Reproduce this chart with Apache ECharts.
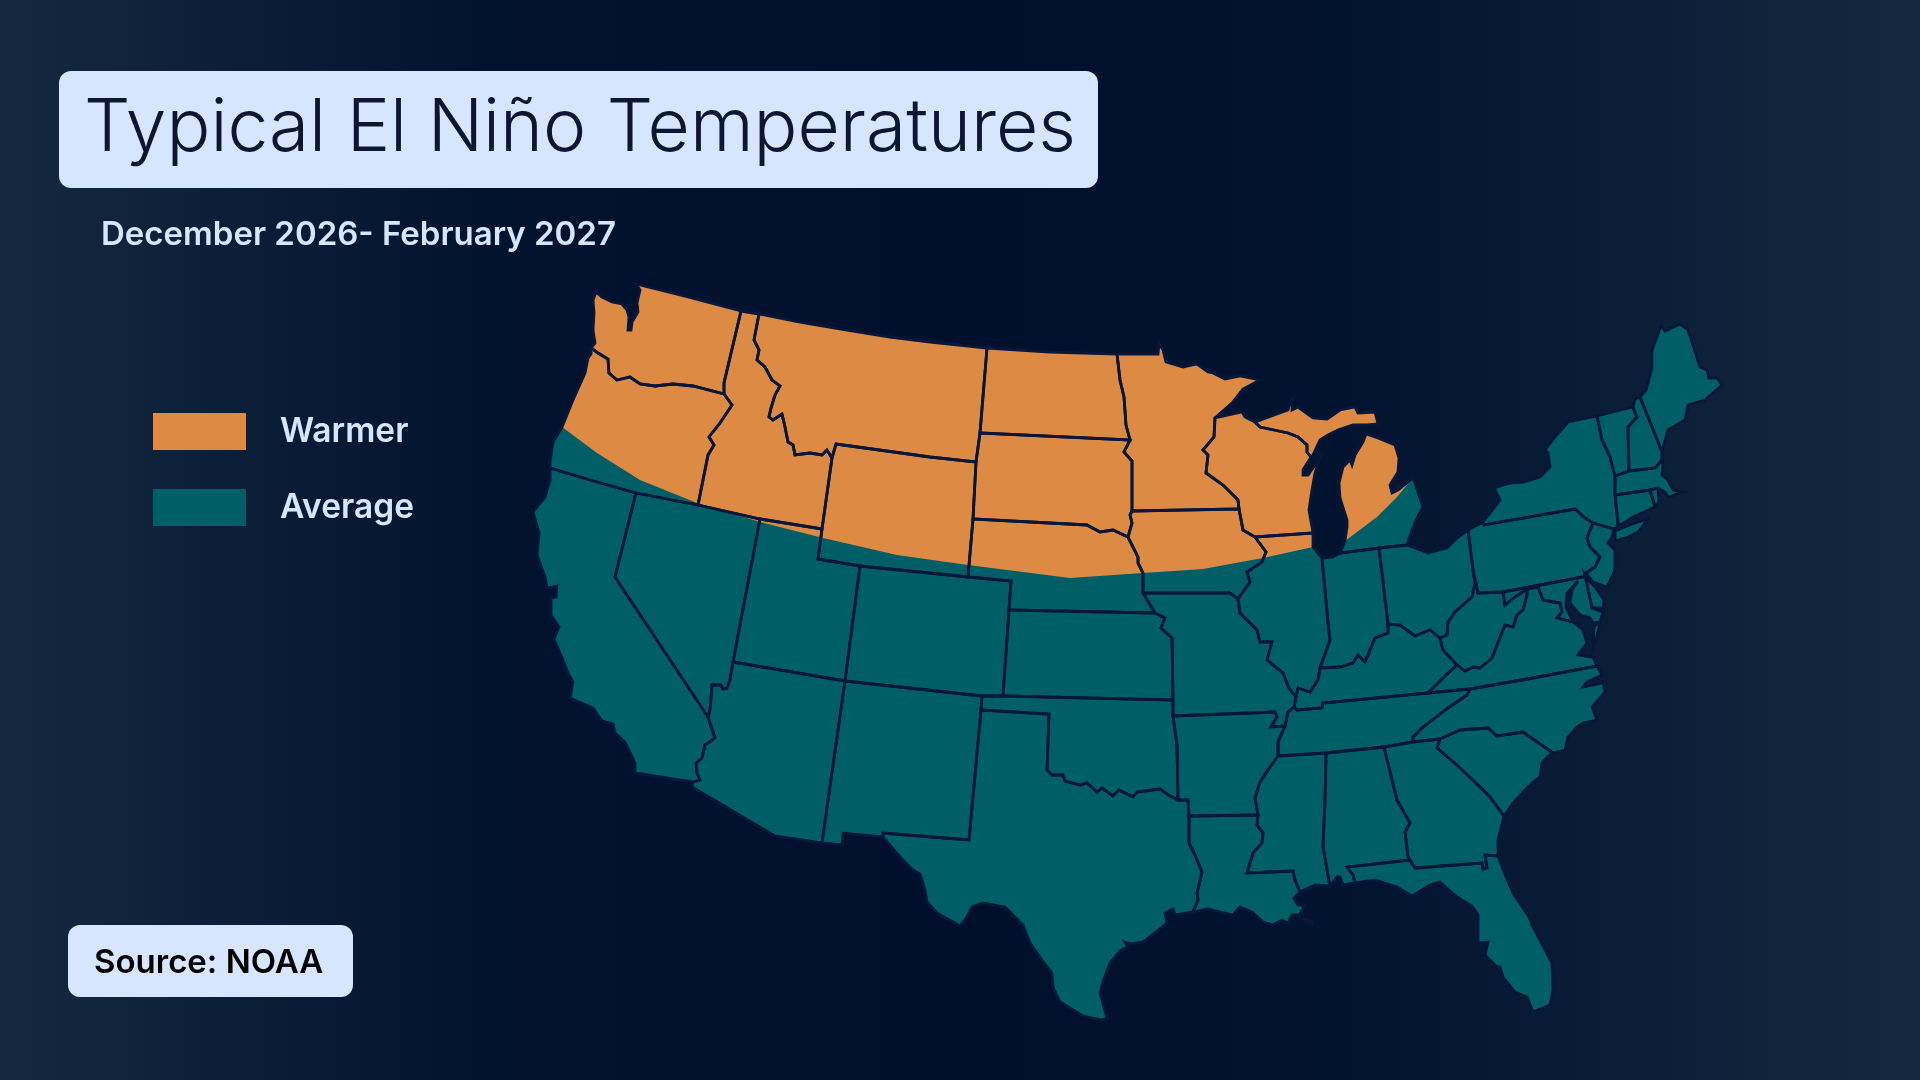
<!DOCTYPE html>
<html><head><meta charset="utf-8">
<style>html,body{margin:0;padding:0;background:#00112c}#c{width:1920px;height:1080px}</style>
<script src="https://cdn.jsdelivr.net/npm/echarts@6/dist/echarts.min.js"></script>
</head><body><div id="c"></div>
<script>
const titleText='Typical El Niño Temperatures';
const subtitleText='December 2026- February 2027';
const sourceText='Source: NOAA';
const legendNames=['Warmer','Average'];
const ORANGE='#DD8A45',TEAL='#005F66',LINE='#07173A',PALE='#D7E6FF';

const WA_COAST=[[591,348],[595,343],[593,330],[594,313],[593,300],[596,292],[602,297],[612,302],[622,304],[627,310],[629,317],[628,330],[631,330],[632,322],[638,312],[637,303],[640,290],[636,284]];
const CAN_WA=[[636,284],[688,297],[741,311]];
const CAN_ID=[[741,311],[759,314]];
const CAN_MT=[[759,314],[800,322],[847,330],[890,337],[930,342],[987,348]];
const CAN_ND=[[987,348],[1050,352],[1117,354]];
const WA_ID=[[741,311],[724,383],[724,394]];
const WA_OR=[[591,348],[598,353],[608,359],[609,373],[617,380],[630,377],[640,384],[655,386],[673,384],[693,386],[724,394]];
const OR_ID=[[724,394],[732,405],[720,423],[709,437],[714,445],[708,455],[698,505]];
const COAST_OR_S=[[550,468],[550,462],[553,442],[562,427]];
const COAST_OR_N=[[562,427],[573,400],[585,373],[588,358],[591,354],[591,348]];
const OR_CA=[[550,468],[590,480],[636,493]];
const OR_NV=[[636,493],[698,505]];
const ID_NV=[[698,505],[760,519]];
const ID_UT=[[760,519],[822,529]];
const CA_NV=[[636,493],[615,577],[708,717]];
const CA_AZ=[[708,717],[715,738],[705,745],[702,758],[696,763],[697,773],[700,780],[693,782]];
const CA_S=[[693,782],[635,773]];
const CA_COAST=[[635,773],[635,763],[625,742],[615,733],[613,724],[602,721],[593,708],[570,698],[573,682],[568,673],[563,660],[554,639],[559,627],[551,615],[551,598],[556,597],[557,586],[547,588],[545,577],[537,555],[539,533],[533,512],[545,497],[550,480],[550,468]];
const NV_UT=[[760,519],[733,662]];
const NV_AZ=[[733,662],[730,680],[727,688],[723,689],[721,685],[712,685],[710,710],[708,717]];
const MT_ID=[[759,314],[754,340],[759,350],[757,360],[765,367],[772,380],[780,386],[775,395],[771,408],[769,417],[773,420],[782,414],[785,427],[788,442],[793,445],[795,455],[810,453],[822,455],[827,450],[832,458]];
const MT_JOG=[[832,458],[836,444]];
const ID_WY=[[832,458],[822,529]];
const MT_WY=[[836,444],[930,457],[976,462]];
const MT_ND=[[987,348],[980,433]];
const MT_SD=[[980,433],[976,462]];
const WY_SD=[[976,462],[973,519]];
const WY_NE=[[973,519],[968,577]];
const WY_CO=[[968,577],[860,566]];
const UT_WY=[[822,529],[818,559],[860,566]];
const UT_CO=[[860,566],[845,681]];
const UT_AZ=[[733,662],[845,681]];
const CO_NE=[[968,577],[1011,581],[1009,610]];
const CO_KS=[[1009,610],[1003,696]];
const CO_OK=[[1003,696],[982,696]];
const CO_NM=[[982,696],[845,681]];
const AZ_NM=[[845,681],[822,843]];
const AZ_S=[[822,843],[775,836],[692,787],[693,782]];
const NM_OK=[[982,696],[981,710]];
const NM_TX=[[981,710],[969,840],[883,833]];
const NM_S=[[883,833],[883,837],[843,833],[842,845],[822,843]];
const TX_P=[[981,710],[1049,714]];
const TX_OK=[[1049,714],[1047,770],[1052,775],[1063,775],[1065,781],[1080,785],[1087,783],[1097,792],[1102,788],[1113,796],[1119,790],[1133,797],[1137,792],[1160,789],[1170,796],[1178,800]];
const TX_AR=[[1178,800],[1188,800],[1189,816]];
const TX_LA=[[1189,816],[1189,843],[1195,855],[1202,872],[1197,893],[1198,900],[1193,912]];
const TX_COAST=[[883,837],[900,857],[913,870],[920,874],[925,890],[927,902],[937,913],[960,926],[967,917],[972,907],[983,903],[1005,907],[1023,925],[1030,943],[1042,960],[1052,973],[1053,987],[1060,1002],[1083,1016],[1102,1020],[1107,1018],[1100,993],[1103,982],[1110,963],[1121,950],[1128,947],[1125,942],[1130,944],[1143,942],[1167,923],[1165,913],[1173,909],[1175,915],[1193,912]];
const ND_MN=[[1117,354],[1120,380],[1124,397],[1126,425],[1130,440]];
const ND_SD=[[980,433],[1130,440]];
const SD_MN=[[1130,440],[1124,452],[1132,461],[1132,511]];
const SD_IA=[[1132,511],[1130,515],[1132,523],[1128,537]];
const SD_NE=[[973,519],[1087,525],[1100,532],[1113,530],[1128,537]];
const NE_IA=[[1128,537],[1138,557],[1138,563],[1143,573],[1143,593]];
const NE_MO=[[1143,593],[1155,613]];
const NE_KS=[[1009,610],[1155,613]];
const KS_MO=[[1155,613],[1165,618],[1161,628],[1172,638],[1173,700]];
const KS_OK=[[1003,696],[1173,700]];
const OK_MO=[[1173,700],[1173,716]];
const OK_AR=[[1173,716],[1177,745],[1178,800]];
const MN_N=[[1117,354],[1158,354],[1159,344],[1163,350],[1166,362],[1183,367],[1197,364],[1208,372],[1213,373],[1225,379],[1240,376],[1260,380]];
const MN_LAKE=[[1260,380],[1243,389],[1232,403],[1215,418]];
const MN_WI=[[1215,418],[1214,437],[1203,450],[1208,455],[1206,473],[1223,485],[1238,500],[1239,509]];
const MN_IA=[[1132,511],[1239,509]];
const WI_IA=[[1239,509],[1243,530],[1255,537]];
const WI_IL=[[1255,537],[1313,533]];
const WI_N=[[1215,418],[1242,412],[1245,417],[1255,422]];
const WI_MI=[[1255,422],[1260,427],[1288,433],[1298,437],[1307,445],[1307,452],[1311,457]];
const WI_SHORE=[[1311,457],[1303,470],[1303,475],[1308,475],[1320,458],[1315,473],[1312,490],[1309,510],[1312,527],[1313,533]];
const UP_N=[[1255,422],[1288,410],[1290,402],[1296,393],[1292,402],[1292,410],[1298,407],[1313,418],[1327,419],[1340,410],[1355,407],[1358,413],[1375,412],[1378,424]];
const UP_S=[[1378,424],[1367,425],[1353,425],[1338,430],[1328,435],[1320,440],[1313,455],[1311,457]];
const MI_LAKE_N=[[1345,541],[1347,527],[1347,520],[1340,498],[1339,483],[1343,467],[1350,460],[1352,465],[1355,455],[1363,442],[1366,434]];
const MI_HURON=[[1366,434],[1378,438],[1395,445],[1399,458],[1398,472],[1390,485],[1392,493],[1398,490],[1413,478]];
const MI_ERIE=[[1413,478],[1415,483],[1423,507],[1417,518],[1412,530],[1407,545]];
const MI_IN=[[1340,553],[1379,548]];
const MI_OH=[[1379,548],[1407,545]];
const IN_LAKE=[[1322,558],[1333,557],[1340,553]];
const IL_LAKE=[[1313,533],[1313,547],[1318,553],[1322,558]];
const IL_IN=[[1322,558],[1328,623],[1330,640],[1320,668]];
const IN_OH=[[1379,548],[1388,624]];
const IN_KY=[[1388,624],[1388,633],[1375,638],[1365,662],[1358,655],[1353,663],[1340,667],[1320,668]];
const IL_KY=[[1320,668],[1318,680],[1310,692],[1298,688],[1296,697]];
const IA_IL=[[1255,537],[1266,552],[1262,562],[1247,572],[1250,582],[1238,599]];
const IA_MO=[[1143,593],[1230,593],[1238,599]];
const MO_IL=[[1238,599],[1240,613],[1257,630],[1260,642],[1272,642],[1267,660],[1283,673],[1289,688],[1296,697]];
const MO_KY=[[1296,697],[1294,707]];
const MO_TN=[[1294,707],[1288,712],[1285,726]];
const MO_AR=[[1173,716],[1275,712],[1277,717],[1271,727],[1285,726]];
const AR_TN=[[1285,726],[1278,742],[1278,756]];
const AR_MS=[[1278,756],[1268,770],[1260,782],[1255,798],[1258,815]];
const LA_AR=[[1189,816],[1258,815]];
const LA_MS=[[1258,815],[1257,825],[1263,833],[1262,843],[1253,853],[1247,873],[1293,871],[1295,880],[1300,892]];
const LA_COAST=[[1300,892],[1294,898],[1298,905],[1305,905],[1298,917],[1313,922],[1312,925],[1297,915],[1292,915],[1288,923],[1282,920],[1273,925],[1263,922],[1252,912],[1240,907],[1237,910],[1233,915],[1208,909],[1193,912]];
const MS_COAST=[[1300,892],[1315,885],[1330,886]];
const MS_AL=[[1326,753],[1325,800],[1323,847],[1330,886]];
const AL_COAST=[[1330,886],[1337,877],[1340,877],[1343,885],[1355,883]];
const AL_FL=[[1355,883],[1353,875],[1347,867],[1410,860]];
const AL_GA=[[1384,747],[1397,800],[1410,823],[1405,832],[1408,857],[1410,860]];
const GA_FL=[[1410,860],[1415,868],[1482,863],[1483,869],[1487,868],[1485,855],[1498,856]];
const GA_COAST=[[1504,816],[1498,840],[1498,856]];
const FL_COAST=[[1498,856],[1502,867],[1513,893],[1529,917],[1532,925],[1552,963],[1553,990],[1550,1005],[1533,1012],[1527,997],[1515,992],[1503,977],[1500,967],[1497,967],[1485,955],[1488,942],[1478,943],[1478,915],[1472,906],[1457,897],[1440,882],[1430,885],[1412,896],[1397,887],[1375,880],[1355,883]];
const GA_SC=[[1440,739],[1437,748],[1457,765],[1478,785],[1490,797],[1504,816]];
const GA_NC=[[1413,742],[1440,739]];
const SC_COAST=[[1504,816],[1513,803],[1527,788],[1533,782],[1540,777],[1542,763],[1548,756],[1553,753]];
const NC_SC=[[1553,753],[1523,732],[1497,736],[1488,728],[1460,730],[1440,739]];
const NC_COAST=[[1553,753],[1565,750],[1568,737],[1577,727],[1583,723],[1597,720],[1592,707],[1605,692],[1603,683],[1583,687],[1587,682],[1602,675],[1597,666]];
const VA_NC=[[1597,666],[1533,678],[1470,689]];
const VA_TN=[[1470,689],[1428,693]];
const KY_TN=[[1428,693],[1323,703],[1322,708],[1297,710],[1294,707]];
const TN_NC=[[1470,689],[1467,695],[1448,708],[1422,728],[1413,737],[1413,742]];
const TN_S=[[1413,742],[1384,747]];
const TN_AL=[[1384,747],[1326,753]];
const TN_MS=[[1326,753],[1278,756]];
const KY_VA=[[1428,693],[1443,678],[1457,665]];
const KY_WV=[[1457,665],[1443,650],[1440,638]];
const VA_WV=[[1457,665],[1465,671],[1473,667],[1480,668],[1492,658],[1497,645],[1505,625],[1513,627],[1517,615],[1523,610],[1527,595],[1527,589]];
const WV_MD=[[1503,592],[1505,605],[1515,597],[1527,589]];
const WV_PA=[[1473,570],[1478,593],[1503,592]];
const OH_PA=[[1468,530],[1473,570]];
const OH_ERIE=[[1407,545],[1415,548],[1428,553],[1447,548],[1457,538],[1468,530]];
const OH_WV=[[1473,570],[1475,583],[1472,597],[1455,612],[1448,622],[1447,635],[1440,638]];
const OH_KY=[[1440,638],[1430,630],[1415,636],[1400,625],[1388,624]];
const PA_ERIE=[[1468,530],[1483,522]];
const NY_PA=[[1483,522],[1484,525],[1575,509],[1585,518],[1593,523]];
const PA_NJ=[[1593,523],[1587,538],[1590,547],[1600,557],[1595,567],[1586,573],[1585,575]];
const PA_MD=[[1503,592],[1583,577],[1585,575]];
const NY_LAKE=[[1483,522],[1500,500],[1494,488],[1510,483],[1523,482],[1540,477],[1550,467],[1548,453],[1545,450],[1555,437],[1568,422],[1597,416]];
const NY_VT=[[1597,416],[1602,440],[1610,457],[1615,476]];
const NY_MA=[[1615,476],[1615,495]];
const NY_CT=[[1615,495],[1618,523],[1617,527]];
const NY_NJ=[[1593,523],[1614,529]];
const NJ_COAST=[[1614,529],[1612,537],[1608,543],[1615,550],[1615,570],[1607,587],[1593,582],[1586,573]];
const DE_MD=[[1585,575],[1592,608]];
const DE_COAST=[[1585,575],[1588,580],[1595,587],[1604,600],[1603,608],[1592,608]];
const MD_SHORE=[[1592,608],[1603,612],[1600,622],[1593,623],[1590,618],[1580,615],[1570,603],[1572,590],[1578,581],[1567,593],[1566,607],[1573,622]];
const MD_VA=[[1527,589],[1538,587],[1543,600],[1560,603],[1562,612],[1557,618],[1573,622]];
const VA_COAST=[[1573,622],[1583,630],[1587,643],[1580,652],[1578,655],[1593,657],[1597,666]];
const VA_ESHORE=[[1594,626],[1600,623],[1596,640],[1593,648]];
const CT_MA=[[1615,495],[1650,490]];
const CT_RI=[[1650,490],[1655,507]];
const CT_COAST=[[1655,507],[1633,517],[1617,527]];
const RI_MA=[[1650,490],[1658,488]];
const RI_COAST=[[1658,488],[1659,502],[1655,507]];
const VT_MA=[[1615,476],[1629,471]];
const NH_MA=[[1629,471],[1655,468],[1662,460]];
const MA_COAST=[[1662,460],[1663,465],[1662,475],[1668,480],[1673,490],[1683,492],[1668,497],[1665,492],[1658,488]];
const VT_CAN=[[1597,416],[1633,407]];
const VT_NH=[[1633,407],[1637,417],[1628,427],[1629,471]];
const NH_CAN=[[1633,407],[1635,399],[1640,397]];
const NH_ME=[[1640,397],[1662,452],[1662,460]];
const ME_OUT=[[1640,397],[1646,390],[1652,368],[1652,350],[1661,326],[1665,331],[1680,324],[1688,330],[1700,367],[1707,370],[1709,378],[1717,378],[1722,385],[1705,400],[1688,405],[1685,420],[1668,430],[1662,452]];
const LONG_ISLAND=[[1615,531],[1632,524],[1648,519],[1638,532],[1628,537],[1615,541]];
// Warm/average divide
const WARM_EDGE_W=[[562,427],[597,453],[640,480],[697,503],[760,522],[823,538],[897,555],[968,565],[1070,578],[1143,573],[1203,569],[1263,558],[1313,547]];
const WARM_EDGE_E=[[1345,541],[1377,517],[1396,498],[1413,478]];

const rev=a=>a.slice().reverse();
const ring=(...p)=>p.flat(1);
const states={
 Washington:ring(WA_COAST,CAN_WA,WA_ID,rev(WA_OR)),
 Oregon:ring(WA_OR,OR_ID,rev(OR_NV),rev(OR_CA),COAST_OR_S,COAST_OR_N),
 California:ring(OR_CA,CA_NV,CA_AZ,CA_S,CA_COAST),
 Nevada:ring(OR_NV,ID_NV,NV_UT,NV_AZ,rev(CA_NV)),
 Idaho:ring(CAN_ID,MT_ID,ID_WY,rev(ID_UT),rev(ID_NV),rev(OR_ID),rev(WA_ID)),
 Montana:ring(CAN_MT,MT_ND,MT_SD,rev(MT_WY),rev(MT_JOG),rev(MT_ID)),
 Wyoming:ring(MT_WY,WY_SD,WY_NE,WY_CO,rev(UT_WY),rev(ID_WY),MT_JOG),
 Utah:ring(ID_UT,UT_WY,UT_CO,rev(UT_AZ),rev(NV_UT)),
 Colorado:ring(rev(WY_CO),CO_NE,CO_KS,CO_OK,CO_NM,rev(UT_CO)),
 Arizona:ring(UT_AZ,AZ_NM,AZ_S,rev(CA_AZ),rev(NV_AZ)),
 'New Mexico':ring(rev(CO_NM),NM_OK,NM_TX,NM_S,rev(AZ_NM)),
 'North Dakota':ring(CAN_ND,ND_MN,rev(ND_SD),rev(MT_ND)),
 'South Dakota':ring(ND_SD,SD_MN,SD_IA,rev(SD_NE),rev(WY_SD),rev(MT_SD)),
 Nebraska:ring(SD_NE,NE_IA,NE_MO,rev(NE_KS),rev(CO_NE),rev(WY_NE)),
 Kansas:ring(NE_KS,KS_MO,rev(KS_OK),rev(CO_KS)),
 Oklahoma:ring(rev(CO_OK),KS_OK,OK_MO,OK_AR,rev(TX_OK),rev(TX_P),rev(NM_OK)),
 Texas:ring(rev(NM_TX),TX_P,TX_OK,TX_AR,TX_LA,rev(TX_COAST)),
 Minnesota:ring(MN_N,MN_LAKE,MN_WI,rev(MN_IA),rev(SD_MN),rev(ND_MN)),
 Iowa:ring(MN_IA,WI_IA,IA_IL,rev(IA_MO),rev(NE_IA),rev(SD_IA)),
 Wisconsin:ring(rev(MN_WI),WI_N,WI_MI,WI_SHORE,rev(WI_IL),rev(WI_IA)),
 'Michigan Upper':ring(UP_N,UP_S,rev(WI_MI)),
 'Michigan Lower':ring([[1340,553]],MI_LAKE_N,MI_HURON,MI_ERIE,rev(MI_OH),rev(MI_IN)),
 Illinois:ring(WI_IL,IL_LAKE,IL_IN,IL_KY,rev(MO_IL),rev(IA_IL)),
 Indiana:ring(IN_LAKE,MI_IN,IN_OH,IN_KY,rev(IL_IN)),
 Ohio:ring(MI_OH,OH_ERIE,OH_PA,OH_WV,OH_KY,rev(IN_OH)),
 Missouri:ring(IA_MO,MO_IL,MO_KY,MO_TN,rev(MO_AR),rev(OK_MO),rev(KS_MO),rev(NE_MO)),
 Arkansas:ring(MO_AR,AR_TN,AR_MS,rev(LA_AR),rev(TX_AR),rev(OK_AR)),
 Louisiana:ring(LA_AR,LA_MS,LA_COAST,rev(TX_LA)),
 Mississippi:ring(rev(TN_MS),MS_AL,rev(MS_COAST),rev(LA_MS),rev(AR_MS)),
 Alabama:ring(rev(TN_AL),AL_GA,rev(AL_FL),rev(AL_COAST),rev(MS_AL)),
 Georgia:ring(rev(TN_S),GA_NC,GA_SC,GA_COAST,rev(GA_FL),rev(AL_GA)),
 Florida:ring(AL_FL,GA_FL,FL_COAST),
 'South Carolina':ring(rev(NC_SC),rev(SC_COAST),rev(GA_SC)),
 'North Carolina':ring(rev(VA_NC),rev(NC_COAST),NC_SC,rev(GA_NC),rev(TN_NC)),
 Tennessee:ring(rev(KY_TN),rev(VA_TN),TN_NC,TN_S,TN_AL,TN_MS,rev(AR_TN),rev(MO_TN)),
 Kentucky:ring(rev(IL_KY),rev(IN_KY),rev(OH_KY),rev(KY_WV),rev(KY_VA),KY_TN,rev(MO_KY)),
 'West Virginia':ring(rev(OH_WV),WV_PA,WV_MD,rev(VA_WV),KY_WV),
 Virginia:ring(KY_VA,VA_WV,MD_VA,VA_COAST,VA_NC,VA_TN),
 'Virginia Eastern Shore':VA_ESHORE,
 Maryland:ring(PA_MD,DE_MD,MD_SHORE,rev(MD_VA),rev(WV_MD)),
 Delaware:ring(rev(DE_MD),DE_COAST),
 Pennsylvania:ring(PA_ERIE,NY_PA,PA_NJ,rev(PA_MD),rev(WV_PA),rev(OH_PA)),
 'New York':ring(NY_LAKE,NY_VT,NY_MA,NY_CT,rev(NY_NJ),rev(NY_PA)),
 'Long Island':LONG_ISLAND,
 'New Jersey':ring(NY_NJ,NJ_COAST,rev(PA_NJ)),
 Connecticut:ring(CT_MA,CT_RI,CT_COAST,rev(NY_CT)),
 'Rhode Island':ring(RI_MA,RI_COAST,rev(CT_RI)),
 Massachusetts:ring(VT_MA,NH_MA,MA_COAST,rev(RI_MA),rev(CT_MA),rev(NY_MA)),
 Vermont:ring(VT_CAN,VT_NH,rev(VT_MA),rev(NY_VT)),
 'New Hampshire':ring(NH_CAN,NH_ME,rev(NH_MA),rev(VT_NH)),
 Maine:ring(ME_OUT,rev(NH_ME))
};
const warmer={
 'Warmer West':ring(COAST_OR_N,WA_COAST,CAN_WA,CAN_ID,CAN_MT,CAN_ND,MN_N,MN_LAKE,WI_N,UP_N,UP_S,WI_SHORE,[[1313,547]],rev(WARM_EDGE_W)),
 'Warmer Michigan':ring(MI_LAKE_N,MI_HURON,rev(WARM_EDGE_E))
};
const fc=o=>({type:'FeatureCollection',features:Object.keys(o).map(n=>({type:'Feature',properties:{name:n},geometry:{type:'Polygon',coordinates:[o[n].concat([o[n][0]])]}}))});
echarts.registerMap('usAverage',fc(states));
echarts.registerMap('usWarmer',fc(warmer));
echarts.registerMap('usBorders',fc(states));

const flat={project:p=>p,unproject:p=>p};
const mapBase={type:'map',projection:flat,aspectScale:1,boundingCoords:[[0,0],[1920,1080]],layoutCenter:['50%','50%'],layoutSize:1920,roam:false,silent:true,showLegendSymbol:false,selectedMode:false,label:{show:false},emphasis:{disabled:true},select:{disabled:true}};
const chart=echarts.init(document.getElementById('c'),null,{renderer:'canvas',width:1920,height:1080});
const font='Inter';
chart.setOption({
 animation:false,
 backgroundColor:new echarts.graphic.LinearGradient(0,0,1,0,[{offset:0,color:'#14293F'},{offset:0.25,color:'#021330'},{offset:0.5,color:'#00102C'},{offset:0.7,color:'#021330'},{offset:1,color:'#14293F'}]),
 graphic:[
  {type:'rect',z:1,shape:{x:59,y:71,width:1039,height:117,r:12},style:{fill:PALE}},
  {type:'rect',z:1,shape:{x:68,y:925,width:285,height:72,r:12},style:{fill:PALE}}
 ],
 title:[
  {text:titleText,left:84,top:93,padding:0,z:6,textStyle:{fontFamily:font,fontWeight:300,fontSize:73,color:'#0C1533'}},
  {text:subtitleText,left:101,top:219,padding:0,textStyle:{fontFamily:font,fontWeight:600,fontSize:33,color:PALE}},
  {text:sourceText,left:94,top:947,padding:0,z:6,textStyle:{fontFamily:font,fontWeight:600,fontSize:33,color:'#000'}}
 ],
 legend:{orient:'vertical',left:153,top:413,padding:0,itemWidth:93,itemHeight:37,itemGap:39,icon:'rect',selectedMode:false,
  data:[{name:legendNames[0],itemStyle:{color:ORANGE}},{name:legendNames[1],itemStyle:{color:TEAL}}],
  textStyle:{fontFamily:font,fontWeight:600,fontSize:33.5,color:PALE,padding:[8,0,0,29]}},
 series:[
  Object.assign({},mapBase,{name:legendNames[1],map:'usAverage',z:2,itemStyle:{areaColor:TEAL,borderWidth:0}}),
  Object.assign({},mapBase,{name:legendNames[0],map:'usWarmer',z:3,itemStyle:{areaColor:ORANGE,borderWidth:0}}),
  Object.assign({},mapBase,{name:'State borders',map:'usBorders',z:4,itemStyle:{areaColor:'rgba(0,0,0,0)',borderColor:LINE,borderWidth:2.8}})
 ]
});
</script></body></html>
